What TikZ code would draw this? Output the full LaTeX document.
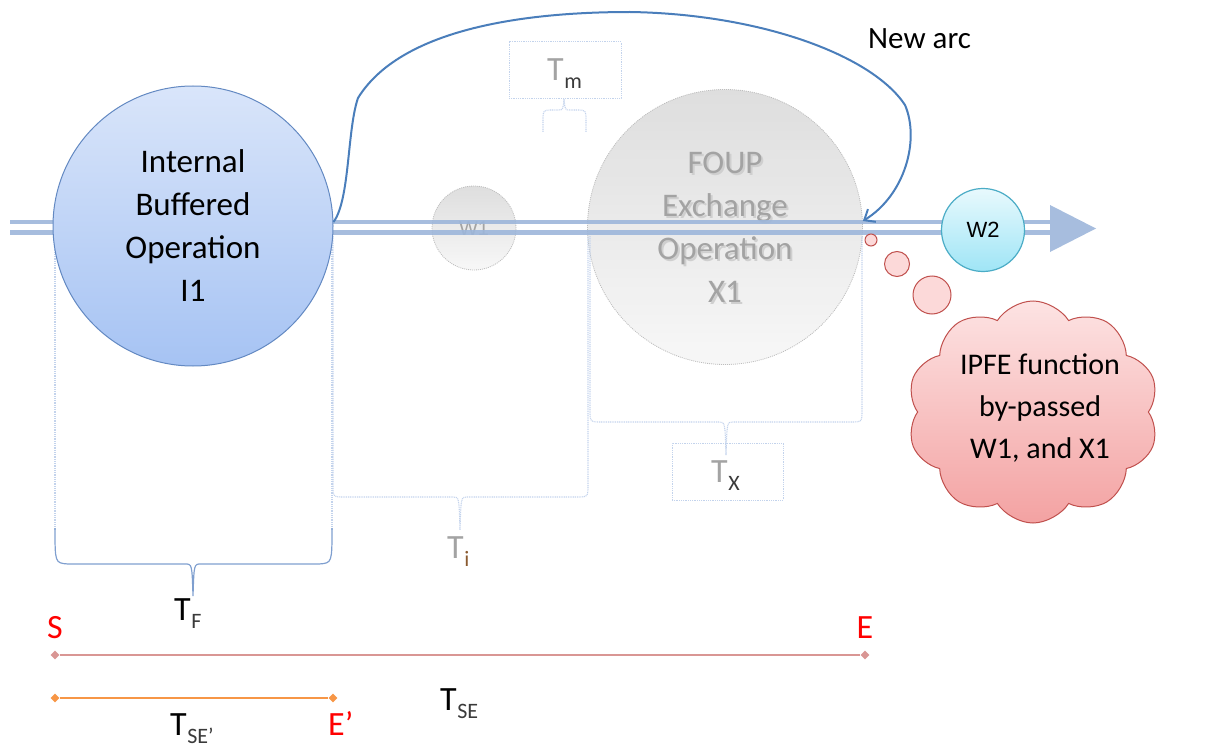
\documentclass[tikz,border=0pt]{standalone}
\usepackage{fontspec}
\setmainfont{Carlito}
\newfontfamily\arialfont{Liberation Sans}
\usetikzlibrary{arrows.meta,shapes.geometric,shapes.symbols}

\definecolor{trackc}{HTML}{9DB6DA}
\definecolor{arcc}{HTML}{4A7EBB}
\definecolor{ione}{HTML}{D9E5FA}
\definecolor{itwo}{HTML}{A6C3F3}
\definecolor{iedge}{HTML}{6389C2}
\definecolor{wtop}{HTML}{E8F9FD}
\definecolor{wbot}{HTML}{9FE5F6}
\definecolor{wedge}{HTML}{4BACC6}
\definecolor{gtop}{HTML}{D8D8D8}
\definecolor{gbot}{HTML}{F6F6F6}
\definecolor{gedge}{HTML}{BDBDBD}
\definecolor{fadetext}{HTML}{A3A3A3}
\definecolor{fadeshadow}{HTML}{CFCFCF}
\definecolor{dotc}{HTML}{C3D3EC}
\definecolor{bracec}{HTML}{7F9FCF}
\definecolor{ctop}{HTML}{FDE3E3}
\definecolor{cbot}{HTML}{F3A2A2}
\definecolor{cedge}{HTML}{C0504D}
\definecolor{bubfill}{HTML}{FCD9D9}
\definecolor{seline}{HTML}{D99694}
\definecolor{eline}{HTML}{F79646}
\definecolor{subc}{HTML}{3A3A3A}
\definecolor{subbrown}{HTML}{8A5A30}

% T with a lowered subscript: #1 colour of T, #2 colour of subscript, #3 subscript
\newcommand{\tsub}[3]{\textcolor{#1}{T}\kern0.5pt\raisebox{-8pt}{\fontsize{22}{22}\selectfont\textcolor{#2}{#3}}}

\tikzset{
  trk/.style={draw=trackc, line width=4.5pt, opacity=0.9},
  opcircle/.style={circle, inner sep=0pt, align=center, font=\fontsize{33}{43}\selectfont},
  fadecircle/.style={circle, inner sep=0pt, top color=gtop, bottom color=gbot,
    draw=gedge, line width=0.8pt, dash pattern=on 1pt off 1pt, fill opacity=0.85},
  dotbrace/.style={draw=dotc, line width=1.1pt, dash pattern=on 1pt off 0.8pt},
  dotbox/.style={draw=dotc, line width=1pt, dash pattern=on 1pt off 0.8pt, inner sep=0pt},
  bub/.style={circle, inner sep=0pt, fill=bubfill, draw=cedge, line width=1pt},
  lab/.style={inner sep=0pt, font=\fontsize{34}{34}\selectfont},
  mk/.style={diamond, inner sep=0pt, minimum size=9pt},
}

\begin{document}
\begin{tikzpicture}[x=1pt, y=-1pt]
\useasboundingbox (0,0) rectangle (1218,749);

% faded operations that are by-passed
\node[fadecircle, minimum size=84pt] (w1) at (474,228) {};
\node[font=\arialfont\fontsize{20}{20}\selectfont, text=fadetext] (w1t) at (474,229) {W1};
\node[fadecircle, minimum size=275pt] (x1) at (725,227) {};
\node[opcircle, text=fadeshadow] (x1s) at (727,229) {FOUP\\Exchange\\Operation\\X1};
\node[opcircle, text=fadetext] (x1t) at (725,227) {FOUP\\Exchange\\Operation\\X1};

% time braces of the by-passed part
\draw[dotbrace] (333,236) -- (333,485) .. controls (333,497) .. (345,497) -- (453,497)
  .. controls (459,497) .. (460,530) .. controls (461,497) .. (467,497) -- (576,497)
  .. controls (588,497) .. (588,485) -- (588,236);
\draw[dotbrace] (590,236) -- (590,410) .. controls (590,422) .. (602,422) -- (719,422)
  .. controls (725,422) .. (726,455) .. controls (727,422) .. (733,422) -- (850,422)
  .. controls (862,422) .. (862,410) -- (862,236);
\draw[dotbrace] (55,236) -- (55,530);
\draw[dotbrace] (332,236) -- (332,530);
\draw[dotbrace] (543,132) -- (543,120) .. controls (543,110) .. (553,110) -- (558,110)
  .. controls (563,110) .. (564,99) .. controls (565,110) .. (570,110) -- (576,110)
  .. controls (586,110) .. (586,120) -- (586,132);

% label boxes
\node[dotbox, minimum width=112pt, minimum height=57pt] (tmbox) at (565,70.5) {};
\node[lab, anchor=base west] (tm) at (547,81) {\tsub{fadetext}{subc}{m}};
\node[dotbox, minimum width=111pt, minimum height=57pt] (txbox) at (727.5,471.5) {};
\node[lab, anchor=base west] (tx) at (711,482) {\tsub{fadetext}{subc}{X}};
\node[lab, anchor=base west] (ti) at (447,558) {\tsub{fadetext}{subbrown}{i}};

% the process track
\draw[trk] (10,222) -- (1050,222);
\draw[trk] (10,232.5) -- (1050,232.5);
\fill[trackc, opacity=0.9] (1050,205) -- (1096,228.5) -- (1050,252) -- cycle;

% active operations
\node[opcircle, minimum size=280pt, top color=ione, bottom color=itwo, draw=iedge,
  line width=1pt] (i1) at (193,226) {Internal\\Buffered\\Operation\\I1};
\node[circle, inner sep=0pt, minimum size=83pt, top color=wtop, bottom color=wbot,
  draw=wedge, line width=1.2pt, font=\arialfont\fontsize{22}{22}\selectfont] (w2) at (983,230) {W2};

% new arc by-passing W1 and X1
\coordinate (arcend) at ([yshift=6pt]x1.east);
\draw[arcc, line width=2pt, -{Straight Barb[length=9pt, width=15pt, line width=2pt]}]
  ([yshift=4pt]i1.east) .. controls (350,200) and (347,130) .. (358,98)
  .. controls (400,30) and (520,12) .. (630,12)
  .. controls (760,14) and (872,55) .. (905,105)
  .. controls (920,140) and (905,195) .. (arcend);
\node[lab, font=\fontsize{31}{31}\selectfont, anchor=base west] (newarc) at (868,49) {New arc};

% thought bubble
\node[bub, minimum size=12pt] (b1) at (871,240) {};
\node[bub, minimum size=25pt] (b2) at (897,264) {};
\node[bub, minimum size=38pt] (b3) at (932,295) {};
\node[cloud, cloud puffs=10, cloud puff arc=115, aspect=1.15, minimum width=252pt,
  minimum height=222pt, inner sep=0pt, top color=ctop, bottom color=cbot,
  draw=cedge, line width=1pt] (cl) at (1033,412) {};
\node[align=center, font=\fontsize{30}{42}\selectfont] (clt) at (1040,408)
  {IPFE function\\by-passed\\W1, and X1};

% brace of the buffered operation
\draw[bracec, line width=1.2pt] (55,528) .. controls (55,563) .. (68,564) -- (185,564)
  .. controls (192,564) .. (193,596) .. controls (194,564) .. (201,564) -- (319,564)
  .. controls (332,563) .. (332,528);
\node[lab, anchor=base west] (tf) at (174,620) {\tsub{black}{subc}{F}};

% start / end markers
\node[lab, text=red, anchor=base] (s) at (55,638) {S};
\node[lab, text=red, anchor=base] (e) at (865,638) {E};
\node[mk, fill=seline] (sm) at (55,655) {};
\node[mk, fill=seline] (em) at (865,655) {};
\draw[seline, line width=1.2pt] (sm) -- (em);
\node[mk, fill=eline] (sm2) at (55,698) {};
\node[mk, fill=eline] (em2) at (333,698) {};
\draw[eline, line width=1.6pt] (sm2) -- (em2);
\node[lab, anchor=base west] (tse) at (440,710) {\tsub{black}{subc}{SE}};
\node[lab, anchor=base west] (tse2) at (170,735) {\tsub{black}{subc}{SE’}};
\node[lab, text=red, anchor=base west] (ep) at (328,735) {E’};

\end{tikzpicture}
\end{document}
